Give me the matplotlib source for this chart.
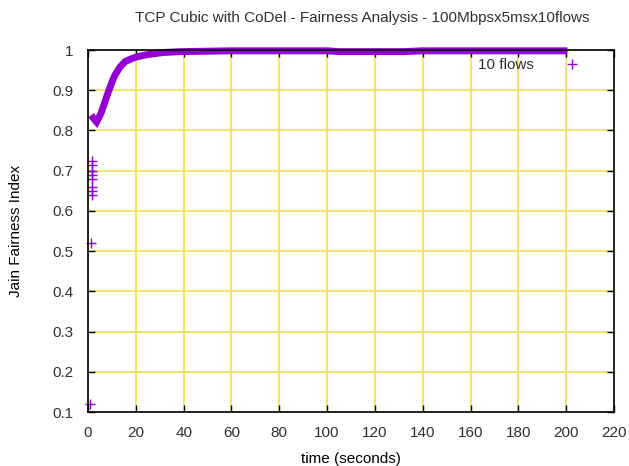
import numpy as np
import matplotlib
matplotlib.use('Agg')
from matplotlib import pyplot as plt

# main curve of the Jain index (key points)
curve_t = [1.3, 2.3, 3.6, 4.6, 5.7, 7.0, 8.5, 10.0, 11.3, 13.3, 15.5, 18.0, 20.4, 23.5, 26.6, 32.0, 39.0,
           60.0, 80.0, 100.0, 105.0, 118.0, 132.0, 140.0, 160.0, 180.0, 200.5]
curve_j = [0.838, 0.830, 0.821, 0.832, 0.847, 0.870, 0.896, 0.920, 0.938, 0.957, 0.971, 0.978, 0.983,
           0.987, 0.990, 0.994, 0.996, 0.998, 0.998, 0.998, 0.996, 0.996, 0.996, 0.998, 0.998, 0.998, 0.998]

# scattered early samples
early_t = [1.0, 1.3, 1.6, 1.7, 1.8, 1.6, 1.7, 1.8, 1.6, 1.7]
early_j = [0.12, 0.52, 0.64, 0.65, 0.66, 0.68, 0.69, 0.70, 0.715, 0.725]

xticks = list(range(0, 221, 20))
yticks = [0.1, 0.2, 0.3, 0.4, 0.5, 0.6, 0.7, 0.8, 0.9, 1.0]
ytick_labels = ["0.1", "0.2", "0.3", "0.4", "0.5", "0.6", "0.7", "0.8", "0.9", "1"]

purple = '#9400d3'
grid_col = '#f0e050'
txt = '#303030'

plt.rcParams['font.family'] = ['Liberation Sans', 'DejaVu Sans']
plt.rcParams['font.size'] = 11
plt.rcParams['text.color'] = txt

fig = plt.figure(figsize=(6.29, 4.66), dpi=100)
ax = fig.add_axes([88/629, 1-412/466, (614-88)/629, (412-50)/466])

ax.plot(curve_t, curve_j, color=purple, lw=5, solid_capstyle='butt', solid_joinstyle='miter',
        clip_on=False, zorder=3)
ax.plot(early_t, early_j, '+', color=purple, ms=6.5, mew=1, clip_on=False, zorder=3, label='10 flows')

ax.set_xlim(0, 220)
ax.set_ylim(0.1, 1.0)
ax.set_xticks(xticks)
ax.set_yticks(yticks)
ax.set_yticklabels(ytick_labels)
ax.tick_params(direction='in', length=5, width=1, top=True, right=True, colors='black',
               labelcolor=txt, labelsize=11)
ax.tick_params(axis='x', pad=10)
ax.tick_params(axis='y', pad=10.5)
ax.grid(True, color=grid_col, lw=1.2)
ax.set_axisbelow(True)
for s in ax.spines.values():
    s.set_linewidth(1.2)
    s.set_zorder(4)

fig.text(362/629, 1-18/466, "TCP Cubic with CoDel - Fairness Analysis - 100Mbpsx5msx10flows",
         ha='center', va='center', fontsize=11)
ax.set_xlabel("time (seconds)", fontsize=11, labelpad=9)
ax.set_ylabel("Jain Fairness Index", fontsize=11, labelpad=21)

leg = ax.legend(loc='upper right', bbox_to_anchor=(0.969, 1.015), frameon=False, markerfirst=False,
                fontsize=11, handlelength=1.5, handletextpad=1.8)

plt.savefig("out.png", dpi=100)
